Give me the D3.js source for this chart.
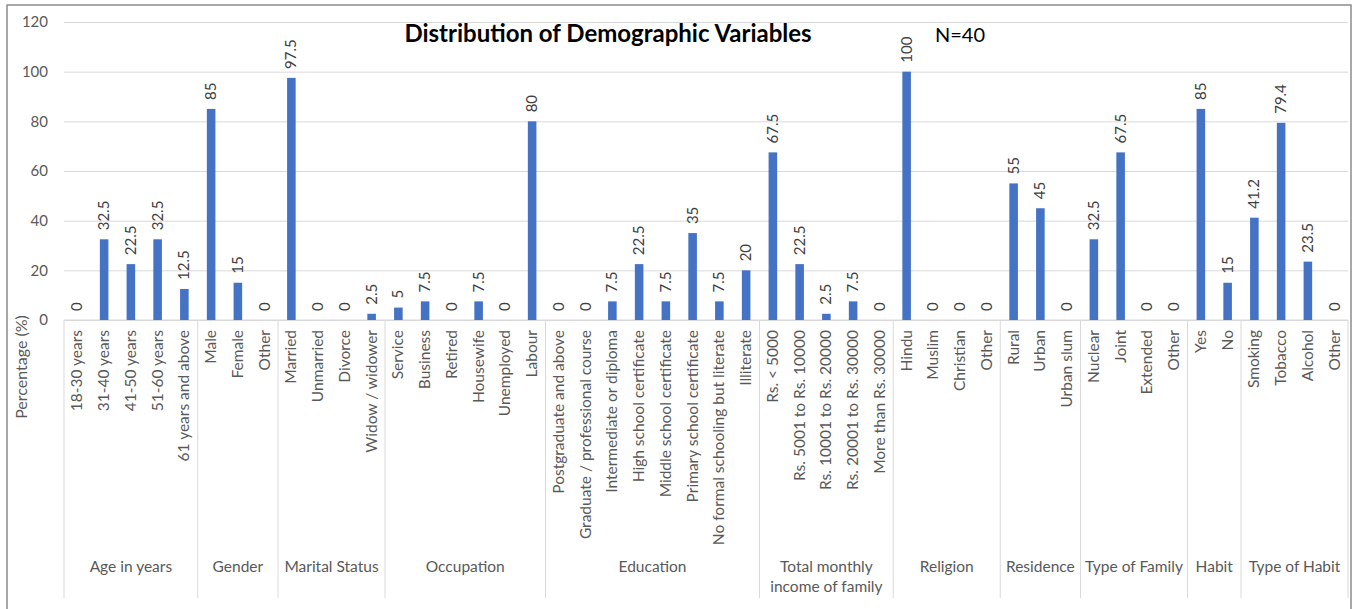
<!DOCTYPE html>
<html>
<head>
    <script src="https://d3js.org/d3.v7.min.js"></script>
    <style>
        body { margin: 0; background: #fff; }
        text { font-family: Lato, "Open Sans", sans-serif; }
    </style>
</head>
<body>
    <svg id="chart" width="1356" height="609"></svg>
    <script>
    // groups and how many categories each one holds
    var groupNames = ["Age in years", "Gender", "Marital Status", "Occupation", "Education",
        "Total monthly|income of family", "Religion", "Residence", "Type of Family", "Habit", "Type of Habit"];
    var groupSizes = [5, 3, 4, 6, 8, 5, 4, 3, 4, 2, 4];

    var categories = [
        "18-30 years", "31-40 years", "41-50 years", "51-60 years", "61 years and above",
        "Male", "Female", "Other",
        "Married", "Unmarried", "Divorce", "Widow / widower",
        "Service", "Business", "Retired", "Housewife", "Unemployed", "Labour",
        "Postgraduate and above", "Graduate / professional course", "Intermediate or diploma",
        "High school certificate", "Middle school certificate", "Primary school certificate",
        "No formal schooling but literate", "Illiterate",
        "Rs. < 5000", "Rs. 5001 to Rs. 10000", "Rs. 10001 to Rs. 20000", "Rs. 20001 to Rs. 30000", "More than Rs. 30000",
        "Hindu", "Muslim", "Christian", "Other",
        "Rural", "Urban", "Urban slum",
        "Nuclear", "Joint", "Extended", "Other",
        "Yes", "No",
        "Smoking", "Tobacco", "Alcohol", "Other"
    ];
    var values = [
        0, 32.5, 22.5, 32.5, 12.5,
        85, 15, 0,
        97.5, 0, 0, 2.5,
        5, 7.5, 0, 7.5, 0, 80,
        0, 0, 7.5, 22.5, 7.5, 35, 7.5, 20,
        67.5, 22.5, 2.5, 7.5, 0,
        100, 0, 0, 0,
        55, 45, 0,
        32.5, 67.5, 0, 0,
        85, 15,
        41.2, 79.4, 23.5, 0
    ];
    var yTicks = [0, 20, 40, 60, 80, 100, 120];

    var svg = d3.select("#chart");
    var mLeft = 64, mRight = 1348, mTop = 22, mBottom = 320;

    var x = d3.scaleBand().domain(d3.range(categories.length))
        .range([mLeft, mRight]).paddingInner(0.68).paddingOuter(0.34);
    var y = d3.scaleLinear().domain([0, 120]).range([mBottom, mTop]);

    // outer frame
    svg.append("rect").attr("x", 7).attr("y", 5).attr("width", 1344).attr("height", 610)
        .attr("fill", "none").attr("stroke", "#8c8c8c").attr("stroke-width", 1.5);

    // gridlines
    svg.append("g").attr("transform", "translate(" + mLeft + ",0)")
        .call(d3.axisLeft(y).tickValues(yTicks).tickSize(-(mRight - mLeft)).tickFormat(""))
        .call(function(g){ g.select(".domain").remove(); })
        .selectAll("line").attr("stroke", "#d9d9d9");

    // y tick labels
    svg.append("g").attr("transform", "translate(" + (mLeft - 13) + ",0)")
        .call(d3.axisLeft(y).tickValues(yTicks).tickSize(0))
        .call(function(g){ g.select(".domain").remove(); })
        .selectAll("text").attr("fill", "#595959").style("font-size", "15px")
        .style("font-family", "Lato, sans-serif");

    // x axis line
    svg.append("line").attr("x1", mLeft).attr("x2", mRight).attr("y1", mBottom).attr("y2", mBottom)
        .attr("stroke", "#d9d9d9");

    // bars
    svg.selectAll("rect.bar").data(values).join("rect").attr("class", "bar")
        .attr("x", function(d, i){ return x(i); })
        .attr("width", x.bandwidth())
        .attr("y", function(d){ return y(d); })
        .attr("height", function(d){ return mBottom - y(d); })
        .attr("fill", "#4472c4");

    // data labels, rotated
    svg.selectAll("text.val").data(values).join("text").attr("class", "val")
        .attr("transform", function(d, i){
            return "translate(" + (x(i) + x.bandwidth() / 2 + 5) + "," + (y(d) - 9) + ") rotate(-90)";
        })
        .attr("fill", "#404040").style("font-size", "15px")
        .text(function(d){ return d; });

    // category labels
    svg.selectAll("text.cat").data(categories).join("text").attr("class", "cat")
        .attr("transform", function(d, i){
            return "translate(" + (x(i) + x.bandwidth() / 2 + 5) + "," + (mBottom + 10) + ") rotate(-90)";
        })
        .attr("text-anchor", "end").attr("fill", "#595959").style("font-size", "15.5px")
        .text(function(d){ return d; });

    // group dividers and names
    var start = 0;
    var step = x.step();
    svg.append("line").attr("x1", mLeft).attr("x2", mLeft).attr("y1", mBottom).attr("y2", 598)
        .attr("stroke", "#d9d9d9");
    groupNames.forEach(function(name, gi){
        var end = start + groupSizes[gi];
        var xEnd = mLeft + end * step;
        var xMid = mLeft + (start + end) / 2 * step;
        svg.append("line").attr("x1", xEnd).attr("x2", xEnd).attr("y1", mBottom).attr("y2", 598)
            .attr("stroke", "#d9d9d9");
        var lines = name.split("|");
        lines.forEach(function(t, li){
            svg.append("text").attr("x", xMid).attr("y", 572 + li * 20)
                .attr("text-anchor", "middle").attr("fill", "#595959").style("font-size", "15.5px")
                .text(t);
        });
        start = end;
    });

    // axis title
    svg.append("text").attr("transform", "translate(27,367) rotate(-90)")
        .attr("text-anchor", "middle").attr("fill", "#595959").style("font-size", "16px")
        .text("Percentage (%)");

    // title
    svg.append("text").attr("x", 608).attr("y", 42).attr("text-anchor", "middle")
        .attr("fill", "#000").style("font-size", "24px").style("font-weight", "bold")
        .text("Distribution of Demographic Variables");
    svg.append("text").attr("x", 935).attr("y", 42)
        .attr("fill", "#000").style("font-size", "20px")
        .text("N=40");
    </script>
</body>
</html>
